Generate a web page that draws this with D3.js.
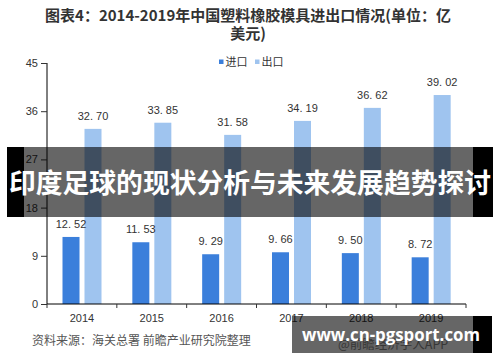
<!DOCTYPE html>
<html><head><meta charset="utf-8">
<script src="https://cdn.jsdelivr.net/npm/d3@7"></script>
<style>html,body{margin:0;padding:0;background:#fff;}svg{display:block;}</style>
</head><body>
<svg id="c" width="500" height="362"></svg>
<script>
const years = ["2014","2015","2016","2017","2018","2019"];
const importVals = [12.52, 11.53, 9.29, 9.66, 9.50, 8.72];
const exportVals = [32.70, 33.85, 31.58, 34.19, 36.62, 39.02];
const yTicks = [0, 9, 18, 27, 36, 45];
const seriesNames = ["进口", "出口"];
const seriesColors = ["#3b7fdb", "#9fc4ef"];
const titleLines = ["图表4：2014-2019年中国塑料橡胶模具进出口情况(单位：亿", "美元)"];
const sourceText = "资料来源：海关总署 前瞻产业研究院整理";
const bannerText = "印度足球的现状分析与未来发展趋势探讨";
const urlText = "www.cn-pgsport.com";

const svg = d3.select("#c");
const cjk = "'Noto Sans CJK SC', 'Noto Sans', sans-serif";
const latin = "'Liberation Sans', Arial, sans-serif";
const x0 = 47, x1 = 466, yBase = 304, yTop = 63;

const x = d3.scaleBand().domain(years).range([x0, x1]).padding(0);
const sub = d3.scaleBand().domain(["imp","exp"]).range([15.5, 54.5]).paddingInner(0.227);
const y = d3.scaleLinear().domain([0, 45]).range([yBase, yTop]);

// title
svg.selectAll("text.title").data(titleLines).enter().append("text")
  .attr("x", 248).attr("y", (d,i)=> 21 + i*17.5)
  .attr("text-anchor","middle").attr("font-family", cjk).attr("font-weight","bold")
  .attr("font-size", 15).attr("fill","#333").text(d=>d);

// legend
const leg = svg.append("g").attr("font-family", cjk).attr("font-size", 11).attr("fill","#333");
[[219,"进口"],[255,"出口"]].forEach((p,i)=>{
  leg.append("rect").attr("x",p[0]).attr("y",59.5).attr("width",4.5).attr("height",4.5).attr("fill", seriesColors[i]);
  leg.append("text").attr("x",p[0]+6.5).attr("y",66).text(seriesNames[i]);
});

// faint watermark under url overlay
svg.append("text").attr("x", 338).attr("y", 349).attr("font-family", cjk).attr("font-size", 12.5)
  .attr("fill","#8a8a8a").text("@前瞻经济学人APP");

// bars + labels
const groups = svg.append("g").selectAll("g").data(years).enter().append("g")
  .attr("transform", d=>`translate(${x(d)},0)`);
const rows = years.map((yr,i)=>[{k:"imp",v:importVals[i],s:0},{k:"exp",v:exportVals[i],s:1}]);
groups.selectAll("rect").data((d,i)=>rows[i]).enter().append("rect")
  .attr("x", d=>sub(d.k)).attr("y", d=>y(d.v)).attr("width", sub.bandwidth())
  .attr("height", d=>yBase - y(d.v)).attr("fill", d=>seriesColors[d.s]);
groups.selectAll("text").data((d,i)=>rows[i]).enter().append("text")
  .attr("x", d=>sub(d.k) + sub.bandwidth()/2).attr("y", d=>y(d.v) - 9)
  .attr("text-anchor","middle").attr("font-family", latin)
  .attr("font-size", 11).attr("fill","#333").text(d=>d.v.toFixed(2).replace(".", ". "));

// y axis
const ya = svg.append("g").attr("transform", `translate(${x0},0)`)
  .call(d3.axisLeft(y).tickValues(yTicks).tickSize(6).tickPadding(3).tickSizeOuter(0));
ya.select(".domain").attr("stroke","#000").attr("d", `M0,${yBase}V${yTop}`);
ya.selectAll(".tick line").attr("stroke","#333");
ya.selectAll(".tick text").attr("font-family", latin).attr("font-size",11).attr("fill","#333");

// x axis
const xa = svg.append("g").attr("transform", `translate(0,${yBase})`)
  .call(d3.axisBottom(x).tickSize(0).tickPadding(10));
xa.select(".domain").attr("stroke","#000").attr("d", `M${x0},0H${x1}`);
xa.selectAll(".tick text").attr("font-family", latin).attr("font-size",11).attr("fill","#333");
const bounds = years.map(d=>x(d)).concat([x1]);
xa.selectAll("line.bt").data(bounds).enter().append("line").attr("class","bt")
  .attr("x1",d=>d).attr("x2",d=>d).attr("y1",0).attr("y2",4).attr("stroke","#333");

// source
svg.append("text").attr("x", 32).attr("y", 345).attr("font-family", cjk).attr("font-size", 12)
  .attr("fill","#555").text(sourceText);

// banner overlay
svg.append("rect").attr("x",7).attr("y",147).attr("width",17).attr("height",70).attr("fill","#000");
svg.append("rect").attr("x",473).attr("y",147).attr("width",20).attr("height",70).attr("fill","#000");
svg.append("rect").attr("x",24).attr("y",147).attr("width",449).attr("height",70).attr("fill","rgba(0,0,0,0.6)");
svg.append("text").attr("x", 250).attr("y", 193).attr("text-anchor","middle")
  .attr("font-family", cjk).attr("font-weight","bold").attr("font-size", 27).attr("fill","#fff")
  .attr("textLength", 482).attr("lengthAdjust","spacingAndGlyphs").text(bannerText);

// url overlay
svg.append("rect").attr("x",292).attr("y",316).attr("width",181).attr("height",37).attr("fill","rgba(0,0,0,0.6)");
svg.append("rect").attr("x",473).attr("y",316).attr("width",19).attr("height",37).attr("fill","#000");
svg.append("text").attr("x", 302).attr("y", 341)
  .attr("font-family","'Open Sans', 'DejaVu Sans', sans-serif").attr("font-weight","bold").attr("font-size", 18)
  .attr("fill","#fff").attr("textLength", 178).attr("lengthAdjust","spacingAndGlyphs").text(urlText);
</script>
</body></html>
